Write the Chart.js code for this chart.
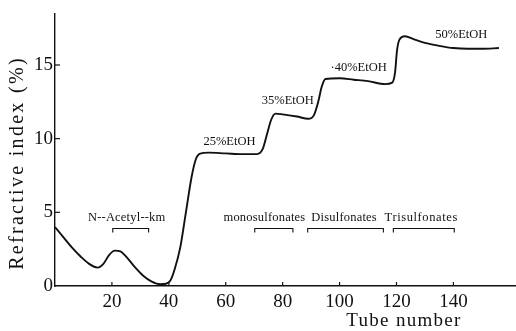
<!DOCTYPE html>
<html><head><meta charset="utf-8">
<script src="https://cdn.jsdelivr.net/npm/chart.js@4"></script>
<style>html,body{margin:0;padding:0;background:#fff}#wrap{width:516px;height:331px}</style>
</head><body><div id="wrap"><canvas id="c" width="516" height="331"></canvas></div>
<script>
// ---- data ----
const tubeNumbers = [0,3,6,9,12,15,17,19,21,23,25,28,31,34,37,39,40.5,42,44,46,48,49.5,51,54,60,66,71,73,74.5,76,77.5,80,85,89,91,92.5,93.7,95,100,105,110,116,118.5,119.5,120.2,121,123,126,130,135,140,145,150,156];
const refractiveIndex = [4.0,3.3,2.6,2.0,1.5,1.25,1.5,2.1,2.4,2.35,2.0,1.3,0.7,0.3,0.12,0.15,0.35,1.1,2.6,5.0,7.4,8.6,8.98,9.05,9.0,8.95,8.95,9.3,10.3,11.3,11.7,11.65,11.5,11.35,11.6,12.5,13.5,14.05,14.1,14.0,13.9,13.7,13.8,14.5,16.0,16.7,16.95,16.75,16.5,16.3,16.15,16.1,16.1,16.15];
const xTickValues = [20,40,60,80,100,120,140];
const yTickValues = [0,5,10,15];
const xTitle = 'Tube number';
const yTitle = 'Refractive index (%)';
const eluentLabels = ['25%EtOH','35%EtOH','·40%EtOH','50%EtOH'];
const eluentX = [61.3,81.8,106.7,142.8];
const eluentY = [9.76,12.58,14.84,17.08];
const fractionLabels = ['N--Acetyl--km','monosulfonates','Disulfonates','Trisulfonates'];
const fractionLabelX = [25.2,73.6,101.6,128.7];
const fractionStart = [20.3,70.2,88.8,118.9];
const fractionEnd = [32.9,83.6,115.4,140.3];
const fractionBracketY = 3.9;
const fractionLabelY = 4.62;

const INK = '#111';
const SERIF = '"Liberation Serif","DejaVu Serif",serif';

const decor = {
  id: 'decor',
  afterDraw(chart) {
    const ctx = chart.ctx, xs = chart.scales.x, ys = chart.scales.y, ca = chart.chartArea;
    ctx.save();
    ctx.strokeStyle = INK; ctx.fillStyle = INK; ctx.lineWidth = 1.2;
    // inward ticks
    xTickValues.forEach(v => { const px = xs.getPixelForValue(v); ctx.beginPath(); ctx.moveTo(px, ca.bottom); ctx.lineTo(px, ca.bottom - 4); ctx.stroke(); });
    yTickValues.forEach(v => { if (v === 0) return; const py = ys.getPixelForValue(v); ctx.beginPath(); ctx.moveTo(ca.left, py); ctx.lineTo(ca.left + 5, py); ctx.stroke(); });
    // fraction brackets
    ctx.lineWidth = 1.1;
    fractionLabels.forEach((t, i) => {
      const x1 = xs.getPixelForValue(fractionStart[i]), x2 = xs.getPixelForValue(fractionEnd[i]);
      const y = ys.getPixelForValue(fractionBracketY);
      ctx.beginPath(); ctx.moveTo(x1, y + 4); ctx.lineTo(x1, y); ctx.lineTo(x2, y); ctx.lineTo(x2, y + 4); ctx.stroke();
      ctx.font = '12.5px ' + SERIF; ctx.textAlign = 'center'; ctx.textBaseline = 'middle';
      ctx.letterSpacing = i === 3 ? '0.6px' : '0.2px';
      ctx.fillText(t, xs.getPixelForValue(fractionLabelX[i]), ys.getPixelForValue(fractionLabelY));
    });
    // eluent labels
    ctx.letterSpacing = '0px';
    ctx.font = '12.5px ' + SERIF;
    eluentLabels.forEach((t, i) => ctx.fillText(t, xs.getPixelForValue(eluentX[i]), ys.getPixelForValue(eluentY[i])));
    // axis titles
    ctx.font = '19px ' + SERIF; ctx.letterSpacing = '1.3px';
    ctx.fillText(xTitle, 404, 321);
    ctx.translate(18, 163); ctx.rotate(-Math.PI / 2);
    ctx.font = '20px ' + SERIF; ctx.letterSpacing = '2.3px';
    ctx.fillText(yTitle, 0, 0);
    ctx.restore();
  }
};

new Chart(document.getElementById('c'), {
  type: 'line',
  data: { datasets: [{
    data: tubeNumbers.map((x, i) => ({ x, y: refractiveIndex[i] })),
    borderColor: INK, borderWidth: 1.9, pointRadius: 0, fill: false,
    cubicInterpolationMode: 'monotone'
  }]},
  options: {
    responsive: false, animation: false,
    layout: { padding: { top: 13, right: 0, left: 0, bottom: 0 } },
    plugins: { legend: { display: false }, tooltip: { enabled: false } },
    scales: {
      x: {
        type: 'linear', min: 0, max: 162,
        afterFit(s) { s.height = 45; },
        afterBuildTicks(s) { s.ticks = xTickValues.map(v => ({ value: v })); },
        grid: { drawOnChartArea: false, drawTicks: false },
        border: { color: INK, width: 1.4 },
        ticks: { color: INK, font: { family: SERIF, size: 19 }, padding: 5, maxRotation: 0 }
      },
      y: {
        min: 0, max: 18.5,
        afterFit(s) { s.width = 55; },
        afterBuildTicks(s) { s.ticks = yTickValues.map(v => ({ value: v })); },
        grid: { drawOnChartArea: false, drawTicks: false },
        border: { color: INK, width: 1.4 },
        ticks: { color: INK, font: { family: SERIF, size: 19 }, padding: 2 }
      }
    }
  },
  plugins: [decor]
});
</script>
</body></html>
